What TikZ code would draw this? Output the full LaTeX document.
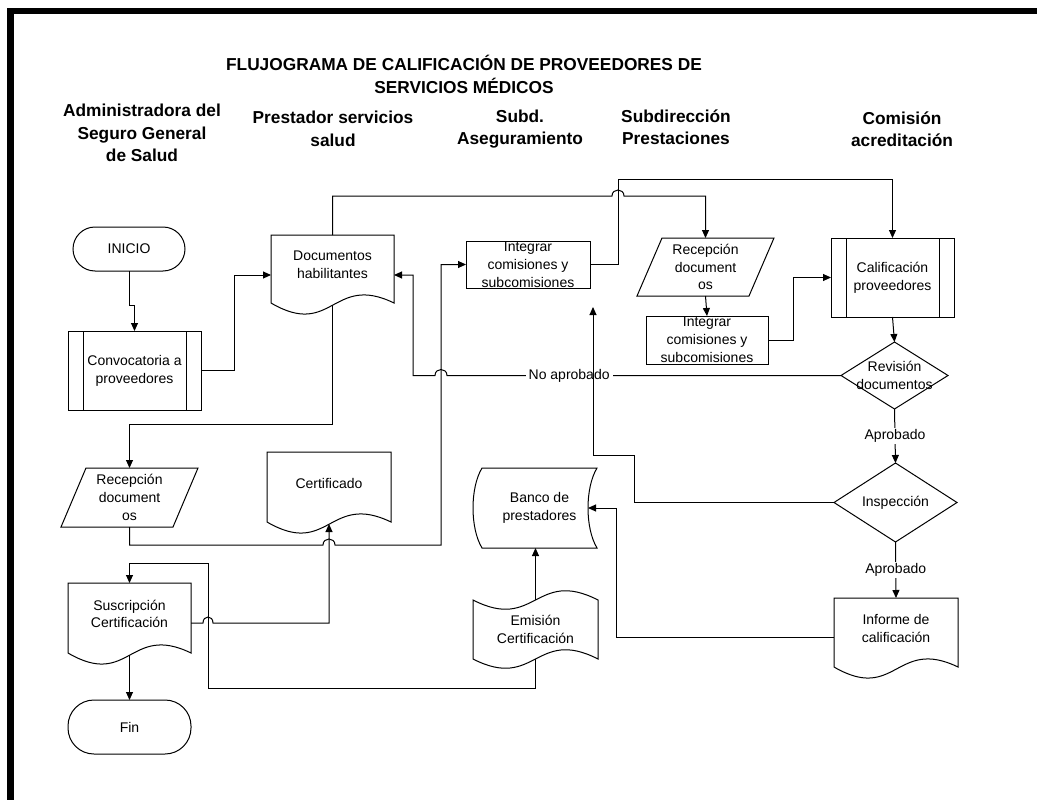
\documentclass[tikz,border=0pt]{standalone}
\usepackage{fontspec}
\setmainfont{Liberation Sans}
\usetikzlibrary{arrows.meta,calc}

\newcommand\docoutline[1]{%
  \draw[ln] (#1.north west) -- (#1.north east) -- ($(#1.south east)+(0,8)$)
    .. controls ($(#1.south)+(0,-22)$) and ($(#1.south)+(0,44)$) .. ($(#1.south west)+(0,8)$) -- cycle;}
\newcommand\tapeoutline[1]{%
  \draw[ln] (#1.north west) .. controls ($(#1.north)+(0,32)$) and ($(#1.north)+(0,-32)$) .. (#1.north east)
    -- (#1.south east) .. controls ($(#1.south)+(0,-32)$) and ($(#1.south)+(0,32)$) .. (#1.south west) -- cycle;}
\newcommand\diamondoutline[1]{%
  \draw[ln] (#1.north) -- (#1.east) -- (#1.south) -- (#1.west) -- cycle;}
\newcommand\paraoutline[1]{%
  \draw[ln] ($(#1.north west)+(12.5,0)$) -- ($(#1.north east)+(12.5,0)$) -- ($(#1.south east)+(-12.5,0)$) -- ($(#1.south west)+(-12.5,0)$) -- cycle;}
\newcommand\predefoutline[1]{%
  \draw[ln] ($(#1.north west)+(15,0)$) -- ($(#1.south west)+(15,0)$);
  \draw[ln] ($(#1.north east)+(-15,0)$) -- ($(#1.south east)+(-15,0)$);}
\newcommand\storedoutline[1]{%
  \draw[ln] (#1.north west) -- (#1.north east) .. controls ($(#1.north east)+(-12,20)$) and ($(#1.south east)+(-12,-20)$) .. (#1.south east)
    -- (#1.south west) .. controls ($(#1.south west)+(-12,-20)$) and ($(#1.north west)+(-12,20)$) .. (#1.north west) -- cycle;}

\begin{document}
\begin{tikzpicture}[x=1pt,y=-1pt,
  every node/.style={inner sep=0pt, outer sep=0pt},
  ln/.style={line width=1pt},
  body/.style={font=\fontsize{14}{17.8}\selectfont, align=center},
  hdr/.style={font=\bfseries\fontsize{17.3}{22.5}\selectfont, align=center},
  sz/.style 2 args={minimum width=#1pt, minimum height=#2pt},
  boxed/.style={draw, ln},
  arr/.style={ln, -{Triangle[length=8pt,width=7pt]}},
  lbl/.style={body, fill=white, inner xsep=3pt, inner ysep=1pt},
]
\useasboundingbox (0,0) rectangle (1037,800);
\fill (7,8) rectangle (1037,14.5);
\fill (7,8) rectangle (13.5,800);

% Title and lane headers
\node[hdr, font=\bfseries\fontsize{17.3}{23}\selectfont] (title) at (464,74) {FLUJOGRAMA DE CALIFICACIÓN DE PROVEEDORES DE\\SERVICIOS MÉDICOS};
\node[hdr] (h1) at (142,133) {Administradora del\\Seguro General\\de Salud};
\node[hdr] (h2) at (333,129) {Prestador servicios\\salud};
\node[hdr] (h3) at (520,129) {Subd.\\Aseguramiento};
\node[hdr] (h4) at (676,127) {Subdirección\\Prestaciones};
\node[hdr] (h5) at (902,129) {Comisión\\acreditación};

% Nodes
\node[body, sz={112}{44}, boxed, rounded corners=22pt] (inicio) at (129,249) {INICIO};
\node[body, sz={133}{79}, boxed] (conv) at (134.5,370.5) {Convocatoria a\\proveedores};
\node[body, sz={123}{60}] (doc) at (332.5,265) {Documentos\\habilitantes};
\node[body, sz={124}{47}, boxed] (int1) at (528,264.5) {Integrar\\comisiones y\\subcomisiones};
\node[body, sz={112}{58}] (recep2) at (705.5,267) {Recepción\\document\\os};
\node[body, sz={122}{48}, boxed] (int2) at (707,340) {Integrar\\comisiones y\\subcomisiones};
\node[body, sz={123}{79}, boxed] (calif) at (892.5,277.5) {Calificación\\proveedores};
\node[body, sz={107}{67}] (rev) at (894.5,375.5) {Revisión\\documentos};
\node[body, sz={123}{79}] (insp) at (895.5,502.5) {Inspección};
\node[body, sz={124}{61}] (inf) at (896,628.5) {Informe de\\calificación};
\node[body, sz={115}{80}] (banco) at (539.5,508) {Banco de\\prestadores};
\node[body, sz={125}{59}] (emis) at (535.5,629.5) {Emisión\\Certificación};
\node[body, sz={124}{62}] (cert) at (329,483) {Certificado};
\node[body, sz={112}{59}] (recepL) at (129.5,497.5) {Recepción\\document\\os};
\node[body, sz={123}{62}] (susc) at (129.5,614) {Suscripción\\Certificación};
\node[body, sz={123}{54}, boxed, rounded corners=26pt] (fin) at (129.5,727) {Fin};

% Outlines
\predefoutline{conv}
\predefoutline{calif}
\docoutline{doc}
\docoutline{cert}
\docoutline{susc}
\docoutline{inf}
\paraoutline{recep2}
\paraoutline{recepL}
\diamondoutline{rev}
\diamondoutline{insp}
\storedoutline{banco}
\tapeoutline{emis}

% Connectors
\draw[arr] (inicio.south) -- ++(0,34) -| (conv.north);
\draw[arr] (conv.east) -- ++(33,0) |- ($(doc.west)+(0,10)$);
\draw[arr] (doc.north) |- (612,196) .. controls (612,188) and (624,188) .. (624,196) -| (recep2.north);
\draw[arr] (int1.east) -| (618,179) -| (calif.north);
\draw[arr] (recep2.south) -- (int2.north);
\draw[arr] (int2.east) -- ++(25,0) |- (calif.west);
\draw[arr] (calif.south) -- (rev.north);
\draw[arr] (rev.west) -- node[lbl, pos=0.69] (lno) {No aprobado} (447,375.5)
  .. controls (447,367.5) and (435,367.5) .. (435,375.5) -- (413,375.5) |- ($(doc.east)+(0,10)$);
\draw[arr] (rev.south) -- node[lbl, midway] (lap1) {Aprobado} (insp.north);
\coordinate (upend) at (593,307);
\draw[arr] (insp.west) -- ++(-200,0) |- (593,455) -- (upend);
\draw[arr] (insp.south) -- node[lbl, midway] (lap2) {Aprobado} (inf.north);
\draw[arr] ($(inf.west)+(0,8.5)$) -- ++(-218,0) |- ($(banco.east)+(-9,0)$);
\draw[arr] (emis.north) -- (emis.north |- banco.south);
\draw[arr] (emis.south) -- ++(0,29.5) -| (208,563) -| (susc.north);
\draw[arr] ($(susc.east)+(0,9)$) -- (203,623) .. controls (203,615) and (213,615) .. (213,623) -| ($(cert.south)+(0,10)$);
\draw[arr] (recepL.south) |- (323,545) .. controls (323,537) and (335,537) .. (335,545) -- (441,545) |- (int1.west);
\draw[arr] ($(doc.south)+(0,10)$) |- (129.5,424) -- (recepL.north);
\draw[arr] ($(susc.south)+(0,10)$) -- (fin.north);
\end{tikzpicture}
\end{document}
